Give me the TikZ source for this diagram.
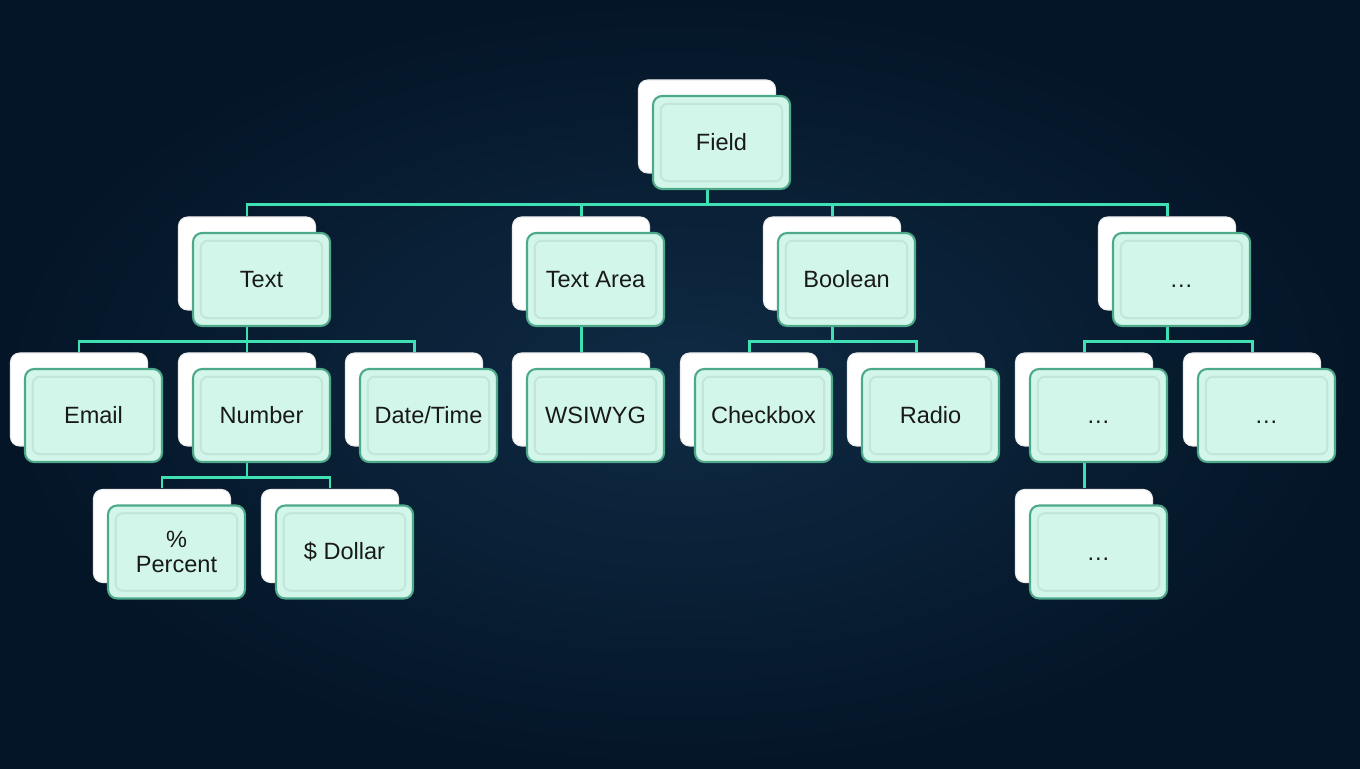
\documentclass[tikz,border=0pt]{standalone}
\usepackage{fontspec}
\setmainfont{Liberation Sans}
\usetikzlibrary{calc,shadows}
\pgfdeclarelayer{back}
\pgfdeclarelayer{wires}
\pgfsetlayers{back,wires,main}
\definecolor{navy}{RGB}{4,21,39}
\definecolor{navymid}{RGB}{15,43,68}
\definecolor{mint}{RGB}{210,247,234}
\definecolor{mintedge}{RGB}{78,168,138}
\definecolor{wirecol}{RGB}{62,224,180}

\begin{document}
\begin{tikzpicture}[
  card/.style={draw=mintedge, line width=0.6pt, fill=mint, rounded corners=2.6pt,
    minimum width=1.37cm, minimum height=0.93cm, inner sep=0pt, align=center,
    font=\fontsize{6.7}{7.2}\selectfont, text=black!90,
    copy shadow={shadow xshift=-0.145cm, shadow yshift=0.16cm, fill=white,
      draw=white!85!gray, line width=0.3pt},
    path picture={\draw[mint!70!black, line width=0.6pt, opacity=.22, rounded corners=2pt]
      ([shift={(2.2pt,2.2pt)}]path picture bounding box.south west) rectangle
      ([shift={(-2.2pt,-2.2pt)}]path picture bounding box.north east);}},
  wire/.style={draw=wirecol, line width=0.85pt}
]

\begin{pgfonlayer}{back}
\shade[inner color=navymid, outer color=navy] (0,0) rectangle (13.6,7.68);
\end{pgfonlayer}
\useasboundingbox (0,0) rectangle (13.6,7.68);

% top
\node[card] (field) at (7.215,6.255) {Field};

% second row
\node[card] (text) at (2.615,4.885) {Text};
\node[card] (textarea) at (5.955,4.885) {Text Area};
\node[card] (boolean) at (8.465,4.885) {Boolean};
\node[card] (more) at (11.815,4.885) {\vphantom{F}…};

% third row
\node[card] (email) at (0.935,3.525) {Email};
\node[card] (number) at (2.615,3.525) {Number};
\node[card] (datetime) at (4.285,3.525) {Date/Time};
\node[card] (wsiwyg) at (5.955,3.525) {WSIWYG};
\node[card] (checkbox) at (7.635,3.525) {Checkbox};
\node[card] (radio) at (9.305,3.525) {Radio};
\node[card] (moreA) at (10.985,3.525) {\vphantom{F}…};
\node[card] (moreB) at (12.665,3.525) {\vphantom{F}…};

% fourth row
\node[card] (percent) at (1.765,2.16) {\%\\Percent};
\node[card] (dollar) at (3.445,2.16) {\$ Dollar};
\node[card] (moreC) at (10.985,2.16) {\vphantom{F}…};

\begin{pgfonlayer}{wires}
\foreach \p/\c in {field/text, field/textarea, field/boolean, field/more,
    text/email, text/number, text/datetime, textarea/wsiwyg,
    boolean/checkbox, boolean/radio, more/moreA, more/moreB,
    number/percent, number/dollar, moreA/moreC}
  \draw[wire] ($(\p.south)+(-.145,0)$) -- ++(0,-.145) -| ($(\c.north)+(-.145,.16)$);
\end{pgfonlayer}

\end{tikzpicture}
\end{document}
